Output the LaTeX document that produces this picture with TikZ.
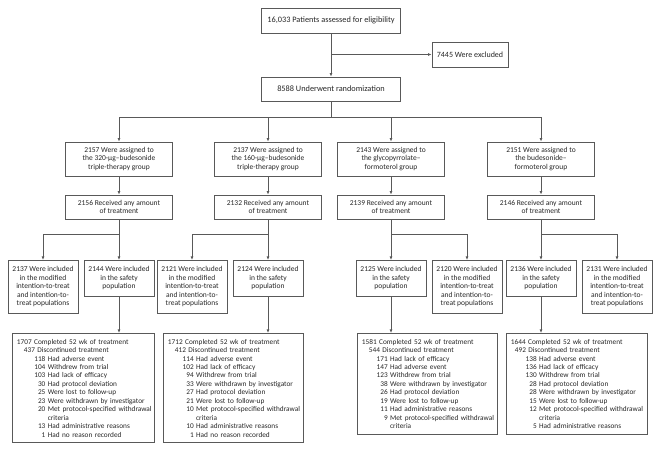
\documentclass[tikz,border=0pt]{standalone}
\usepackage{fontspec}
\setmainfont{Carlito}
\usetikzlibrary{arrows.meta}
\newcommand\ccrow[3][25.8pt]{\mbox{\makebox[#1][r]{#2}\ #3}}
\newcommand\cccont[2][25.8pt]{\mbox{\makebox[#1]{}\ #2}}
\begin{document}
\begin{tikzpicture}[x=1pt,y=-1pt,
  every node/.style={font=\fontsize{7.5}{8.5}\selectfont, text=black!85},
  box/.style={draw=black!65, line width=0.8pt, inner sep=0pt, align=center},
  ln/.style={draw=black!65, line width=0.8pt},
  arr/.style={ln, -{Latex[length=3.6pt,width=3pt]}},
  wbox/.style={box, minimum width=139pt, minimum height=25pt, font=\fontsize{8.3}{9}\selectfont},
  gbox/.style={box, minimum width=107pt, minimum height=34pt},
  rbox/.style={box, minimum width=107pt, minimum height=24pt},
  mbox/.style={box, minimum width=70pt, minimum height=53pt, anchor=north},
  sbox/.style={box, minimum width=70pt, minimum height=36pt, anchor=north},
  bbox/.style={draw=black!65, line width=0.8pt, anchor=north west, align=left,
    inner xsep=4.5pt, inner ysep=5.7pt, font=\fontsize{7.3}{8.45}\selectfont}
]
\useasboundingbox (0,0) rectangle (660,453);

\node[wbox] (top) at (331,20.5) {16,033 Patients assessed for eligibility};
\node[box, minimum width=76pt, minimum height=25pt, font=\fontsize{8}{9}\selectfont] (excl) at (470,54.5) {7445 Were excluded};
\node[wbox, minimum height=24pt] (rand) at (331,89) {8588 Underwent randomization};

\node[gbox] (g1) at (119,159) {2157 Were assigned to\\the 320-μg–budesonide\\triple-therapy group};
\node[gbox] (g2) at (268,159) {2137 Were assigned to\\the 160-μg–budesonide\\triple-therapy group};
\node[gbox] (g3) at (391,159) {2143 Were assigned to\\the glycopyrrolate–\\formoterol group};
\node[gbox] (g4) at (541,159) {2151 Were assigned to\\the budesonide–\\formoterol group};

\node[rbox] (r1) at (119,207) {2156 Received any amount\\of treatment};
\node[rbox] (r2) at (268,207) {2132 Received any amount\\of treatment};
\node[rbox] (r3) at (391,207) {2139 Received any amount\\of treatment};
\node[rbox] (r4) at (541,207) {2146 Received any amount\\of treatment};

\node[mbox] (i1a) at (43,260) {2137 Were included\\in the modified\\intention-to-treat\\and intention-to-\\treat populations};
\node[sbox] (i1b) at (119,260) {2144 Were included\\in the safety\\population};
\node[mbox] (i2a) at (192,260) {2121 Were included\\in the modified\\intention-to-treat\\and intention-to-\\treat populations};
\node[sbox] (i2b) at (268,260) {2124 Were included\\in the safety\\population};
\node[sbox] (i3a) at (391,260) {2125 Were included\\in the safety\\population};
\node[mbox] (i3b) at (467,260) {2120 Were included\\in the modified\\intention-to-treat\\and intention-to-\\treat populations};
\node[sbox] (i4a) at (541,260) {2136 Were included\\in the safety\\population};
\node[mbox] (i4b) at (617,260) {2131 Were included\\in the modified\\intention-to-treat\\and intention-to-\\treat populations};

\node[bbox, text width=133pt] (b1) at (12,333) {1707 Completed 52 wk of treatment\\
\hspace*{7pt}437 Discontinued treatment\\
\ccrow[28.5pt]{118}{Had adverse event}\\
\ccrow[28.5pt]{104}{Withdrew from trial}\\
\ccrow[28.5pt]{103}{Had lack of efficacy}\\
\ccrow[28.5pt]{30}{Had protocol deviation}\\
\ccrow[28.5pt]{25}{Were lost to follow-up}\\
\ccrow[28.5pt]{23}{Were withdrawn by investigator}\\
\ccrow[28.5pt]{20}{Met protocol-specified withdrawal}\\
\cccont[28.5pt]{criteria}\\
\ccrow[28.5pt]{13}{Had administrative reasons}\\
\ccrow[28.5pt]{1}{Had no reason recorded}};

\node[bbox, text width=131pt] (b2) at (163,333) {1712 Completed 52 wk of treatment\\
\hspace*{7pt}412 Discontinued treatment\\
\ccrow{114}{Had adverse event}\\
\ccrow{102}{Had lack of efficacy}\\
\ccrow{94}{Withdrew from trial}\\
\ccrow{33}{Were withdrawn by investigator}\\
\ccrow{27}{Had protocol deviation}\\
\ccrow{21}{Were lost to follow-up}\\
\ccrow{10}{Met protocol-specified withdrawal}\\
\cccont{criteria}\\
\ccrow{10}{Had administrative reasons}\\
\ccrow{1}{Had no reason recorded}};

\node[bbox, text width=131pt] (b3) at (357,333) {1581 Completed 52 wk of treatment\\
\hspace*{7pt}544 Discontinued treatment\\
\ccrow{171}{Had lack of efficacy}\\
\ccrow{147}{Had adverse event}\\
\ccrow{123}{Withdrew from trial}\\
\ccrow{38}{Were withdrawn by investigator}\\
\ccrow{26}{Had protocol deviation}\\
\ccrow{19}{Were lost to follow-up}\\
\ccrow{11}{Had administrative reasons}\\
\ccrow{9}{Met protocol-specified withdrawal}\\
\cccont{criteria}};

\node[bbox, text width=132pt] (b4) at (506,333) {1644 Completed 52 wk of treatment\\
\hspace*{4pt}492 Discontinued treatment\\
\ccrow{138}{Had adverse event}\\
\ccrow{136}{Had lack of efficacy}\\
\ccrow{130}{Withdrew from trial}\\
\ccrow{28}{Had protocol deviation}\\
\ccrow{28}{Were withdrawn by investigator}\\
\ccrow{15}{Were lost to follow-up}\\
\ccrow{12}{Met protocol-specified withdrawal}\\
\cccont{criteria}\\
\ccrow{5}{Had administrative reasons}};

% connectors
\draw[arr] (top) -- (rand);
\draw[arr] (top.south |- excl.west) -- (excl.west);
\coordinate (bus) at (331,117);
\draw[ln] (rand) -- (bus);
\draw[ln] (g1.north |- bus) -- (g4.north |- bus);
\foreach \g in {g1,g2,g3,g4} \draw[arr] (\g.north |- bus) -- (\g);
\draw[arr] (g1) -- (r1);
\draw[arr] (g2) -- (r2);
\draw[arr] (g3) -- (r3);
\draw[arr] (g4) -- (r4);

\path (r1.south) ++(0,15) coordinate (j1);
\path (r2.south) ++(0,15) coordinate (j2);
\path (r3.south) ++(0,15) coordinate (j3);
\path (r4.south) ++(0,15) coordinate (j4);
\draw[arr] (r1) -- (i1b);
\draw[arr] (j1) -| (i1a);
\draw[arr] (r2) -- (i2b);
\draw[arr] (j2) -| (i2a);
\draw[arr] (r3) -- (i3a);
\draw[arr] (j3) -| (i3b);
\draw[arr] (r4) -- (i4a);
\draw[arr] (j4) -| (i4b);

\draw[arr] (i1b) -- (i1b |- b1.north);
\draw[arr] (i2b) -- (i2b |- b2.north);
\draw[arr] (i3a) -- (i3a |- b3.north);
\draw[arr] (i4a) -- (i4a |- b4.north);
\end{tikzpicture}
\end{document}
